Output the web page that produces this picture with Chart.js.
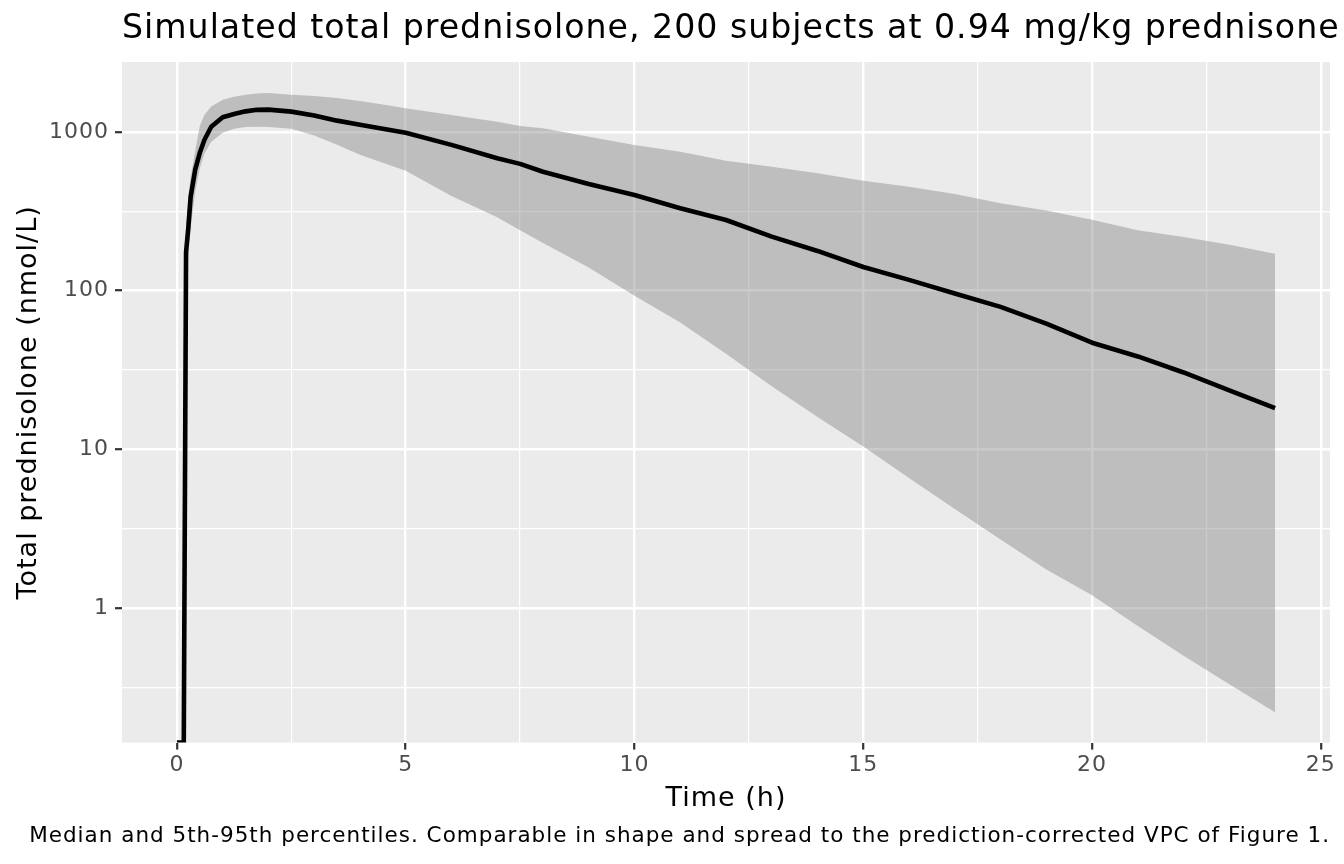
<!DOCTYPE html>
<html>
<head>
<meta charset="utf-8">
<script src="https://cdn.jsdelivr.net/npm/chart.js@4"></script>
<style>
  html, body { margin: 0; padding: 0; background: #ffffff; }
  #wrap { width: 1344px; height: 864px; }
</style>
</head>
<body>
<div id="wrap"><canvas id="c" width="1344" height="864"></canvas></div>
<script>
// ---- data ----
const timeH = [0, 0.15, 0.2, 0.25, 0.3, 0.4, 0.5, 0.6, 0.75, 1, 1.25, 1.5, 1.75, 2, 2.5, 3, 3.5, 4, 4.5, 5,
  6, 7, 7.5, 8, 9, 10, 11, 12, 13, 14, 15, 16, 17, 18, 19, 20, 21, 22, 23, 24];
const median = [0, 0, 175, 250, 390, 580, 740, 890, 1080, 1240, 1300, 1350, 1380, 1385, 1345, 1270, 1180, 1110, 1050, 990,
  830, 683, 630, 562, 470, 401, 331, 279, 219, 178, 141, 117, 96, 79, 62, 47, 38.5, 30.5, 23.5, 18.2];
const p95 = [0, 0, 250, 400, 520, 760, 1090, 1280, 1450, 1600, 1670, 1720, 1750, 1760, 1715, 1690, 1640, 1570, 1490, 1410,
  1280, 1160, 1091, 1055, 935, 828, 751, 660, 604, 549, 493, 452, 407, 356, 320, 280, 240, 218, 195, 171];
const p05 = [0, 0, 110, 170, 250, 420, 590, 730, 870, 990, 1050, 1075, 1080, 1075, 1050, 950, 830, 720, 640, 570,
  395, 290, 240, 200, 140, 93, 63, 40, 25, 16, 10.4, 6.6, 4.2, 2.7, 1.75, 1.2, 0.77, 0.5, 0.33, 0.22];
const xTickValues = [0, 2.5, 5, 7.5, 10, 12.5, 15, 17.5, 20, 22.5, 25];
const xTickLabels = ['0', '', '5', '', '10', '', '15', '', '20', '', '25'];
const yTickValues = [Math.sqrt(0.1), 1, Math.sqrt(10), 10, Math.sqrt(1000), 100, Math.sqrt(100000), 1000];
const yTickLabels = ['', '1', '', '10', '', '100', '', '1000'];

const X_MIN = -1.2, X_MAX = 25.2;
const Y_MIN = 0.1416, Y_MAX = 2762;

// zero concentration -> -Inf on a log axis, drawn at the panel edge (as ggplot does)
const toPts = (arr) => timeH.map((t, i) => ({ x: t, y: arr[i] > 0 ? arr[i] : Y_MIN }));

const FONT = "'DejaVu Sans', sans-serif";

const textSpacing = {
  id: 'textSpacing',
  beforeUpdate(chart) { chart.ctx.letterSpacing = '1px'; },
  beforeLayout(chart) { chart.ctx.letterSpacing = '1px'; },
  beforeDraw(chart) { chart.ctx.letterSpacing = '1px'; }
};

// let the left-aligned title start at the panel edge but run past the panel's right side (as in ggplot)
const titleSpan = {
  id: 'titleSpan',
  afterLayout(chart) {
    if (chart.titleBlock) {
      chart.titleBlock.left = chart.chartArea.left;
      chart.titleBlock.right = chart.width + 100;
      chart.titleBlock.width = chart.titleBlock.right - chart.titleBlock.left;
    }
  }
};

const panelBg = {
  id: 'panelBg',
  beforeDraw(chart) {
    const { ctx, chartArea: a } = chart;
    ctx.save();
    ctx.fillStyle = '#EBEBEB';
    ctx.fillRect(a.left, a.top, a.right - a.left, a.bottom - a.top);
    ctx.restore();
  }
};

const isMajorX = (v) => Math.abs(v / 5 - Math.round(v / 5)) < 1e-6;
const isMajorY = (v) => Math.abs(Math.log10(v) - Math.round(Math.log10(v))) < 1e-6;

new Chart(document.getElementById('c'), {
  type: 'line',
  data: {
    datasets: [
      { label: '5th percentile', data: toPts(p05), borderWidth: 0, pointRadius: 0, order: 2,
        borderColor: 'rgba(0,0,0,0)', fill: false, tension: 0, clip: 0 },
      { label: '95th percentile', data: toPts(p95), borderWidth: 0, pointRadius: 0, order: 1,
        borderColor: 'rgba(0,0,0,0)', backgroundColor: 'rgba(128,128,128,0.42)', fill: '-1', tension: 0, clip: 0 },
      { label: 'Median', data: toPts(median), borderColor: '#000000', borderWidth: 4.6, pointRadius: 0, order: 0,
        fill: false, tension: 0, clip: 0, borderJoinStyle: 'round' }
    ]
  },
  options: {
    responsive: false,
    animation: false,
    devicePixelRatio: 1,
    layout: { padding: { left: 0, right: 14, top: 0, bottom: 0 } },
    plugins: {
      legend: { display: false },
      tooltip: { enabled: false },
      title: {
        display: true, text: 'Simulated total prednisolone, 200 subjects at 0.94 mg/kg prednisone',
        align: 'start', fullSize: false, color: '#000000',
        font: { family: FONT, size: 33.2, weight: 'normal', lineHeight: 1.2 },
        padding: { top: 9.5, bottom: 12.7 }
      },
      subtitle: {
        display: true, position: 'bottom', align: 'end', fullSize: true,
        text: 'Median and 5th-95th percentiles. Comparable in shape and spread to the prediction-corrected VPC of Figure 1.',
        color: '#000000', font: { family: FONT, size: 21.5, weight: 'normal', lineHeight: 1.2 },
        padding: { top: 0, bottom: 14.6 }
      }
    },
    scales: {
      x: {
        type: 'linear', min: X_MIN, max: X_MAX,
        afterBuildTicks: (s) => { s.ticks = xTickValues.map(v => ({ value: v })); },
        afterFit: (s) => { s.height = 81; },
        ticks: {
          autoSkip: false, maxRotation: 0, padding: 2, color: '#4D4D4D',
          font: { family: FONT, size: 22 },
          callback: (v, i) => xTickLabels[i]
        },
        grid: {
          color: '#FFFFFF',
          lineWidth: (c) => (c.tick && isMajorX(c.tick.value)) ? 2.4 : 1.2,
          tickColor: (c) => (c.tick && isMajorX(c.tick.value)) ? '#333333' : 'rgba(0,0,0,0)',
          tickWidth: 2.2, tickLength: 7, drawTicks: true
        },
        border: { display: false },
        title: {
          display: true, text: 'Time (h)', color: '#000000',
          font: { family: FONT, size: 27, weight: 'normal', lineHeight: 1.2 },
          padding: { top: 4, bottom: 8.6 }
        }
      },
      y: {
        type: 'logarithmic', min: Y_MIN, max: Y_MAX,
        afterBuildTicks: (s) => { s.ticks = yTickValues.map(v => ({ value: v })); },
        afterFit: (s) => { s.width = 122; },
        ticks: {
          autoSkip: false, padding: 6, color: '#4D4D4D',
          font: { family: FONT, size: 22 },
          callback: (v, i) => yTickLabels[i]
        },
        grid: {
          color: '#FFFFFF',
          lineWidth: (c) => (c.tick && isMajorY(c.tick.value)) ? 2.4 : 1.2,
          tickColor: (c) => (c.tick && isMajorY(c.tick.value)) ? '#333333' : 'rgba(0,0,0,0)',
          tickWidth: 2.2, tickLength: 7, drawTicks: true
        },
        border: { display: false },
        title: {
          display: true, text: 'Total prednisolone (nmol/L)', color: '#000000',
          font: { family: FONT, size: 27, weight: 'normal', lineHeight: 1.2 },
          padding: { top: 12.8, bottom: 4 }
        }
      }
    }
  },
  plugins: [textSpacing, titleSpan, panelBg]
});
</script>
</body>
</html>
